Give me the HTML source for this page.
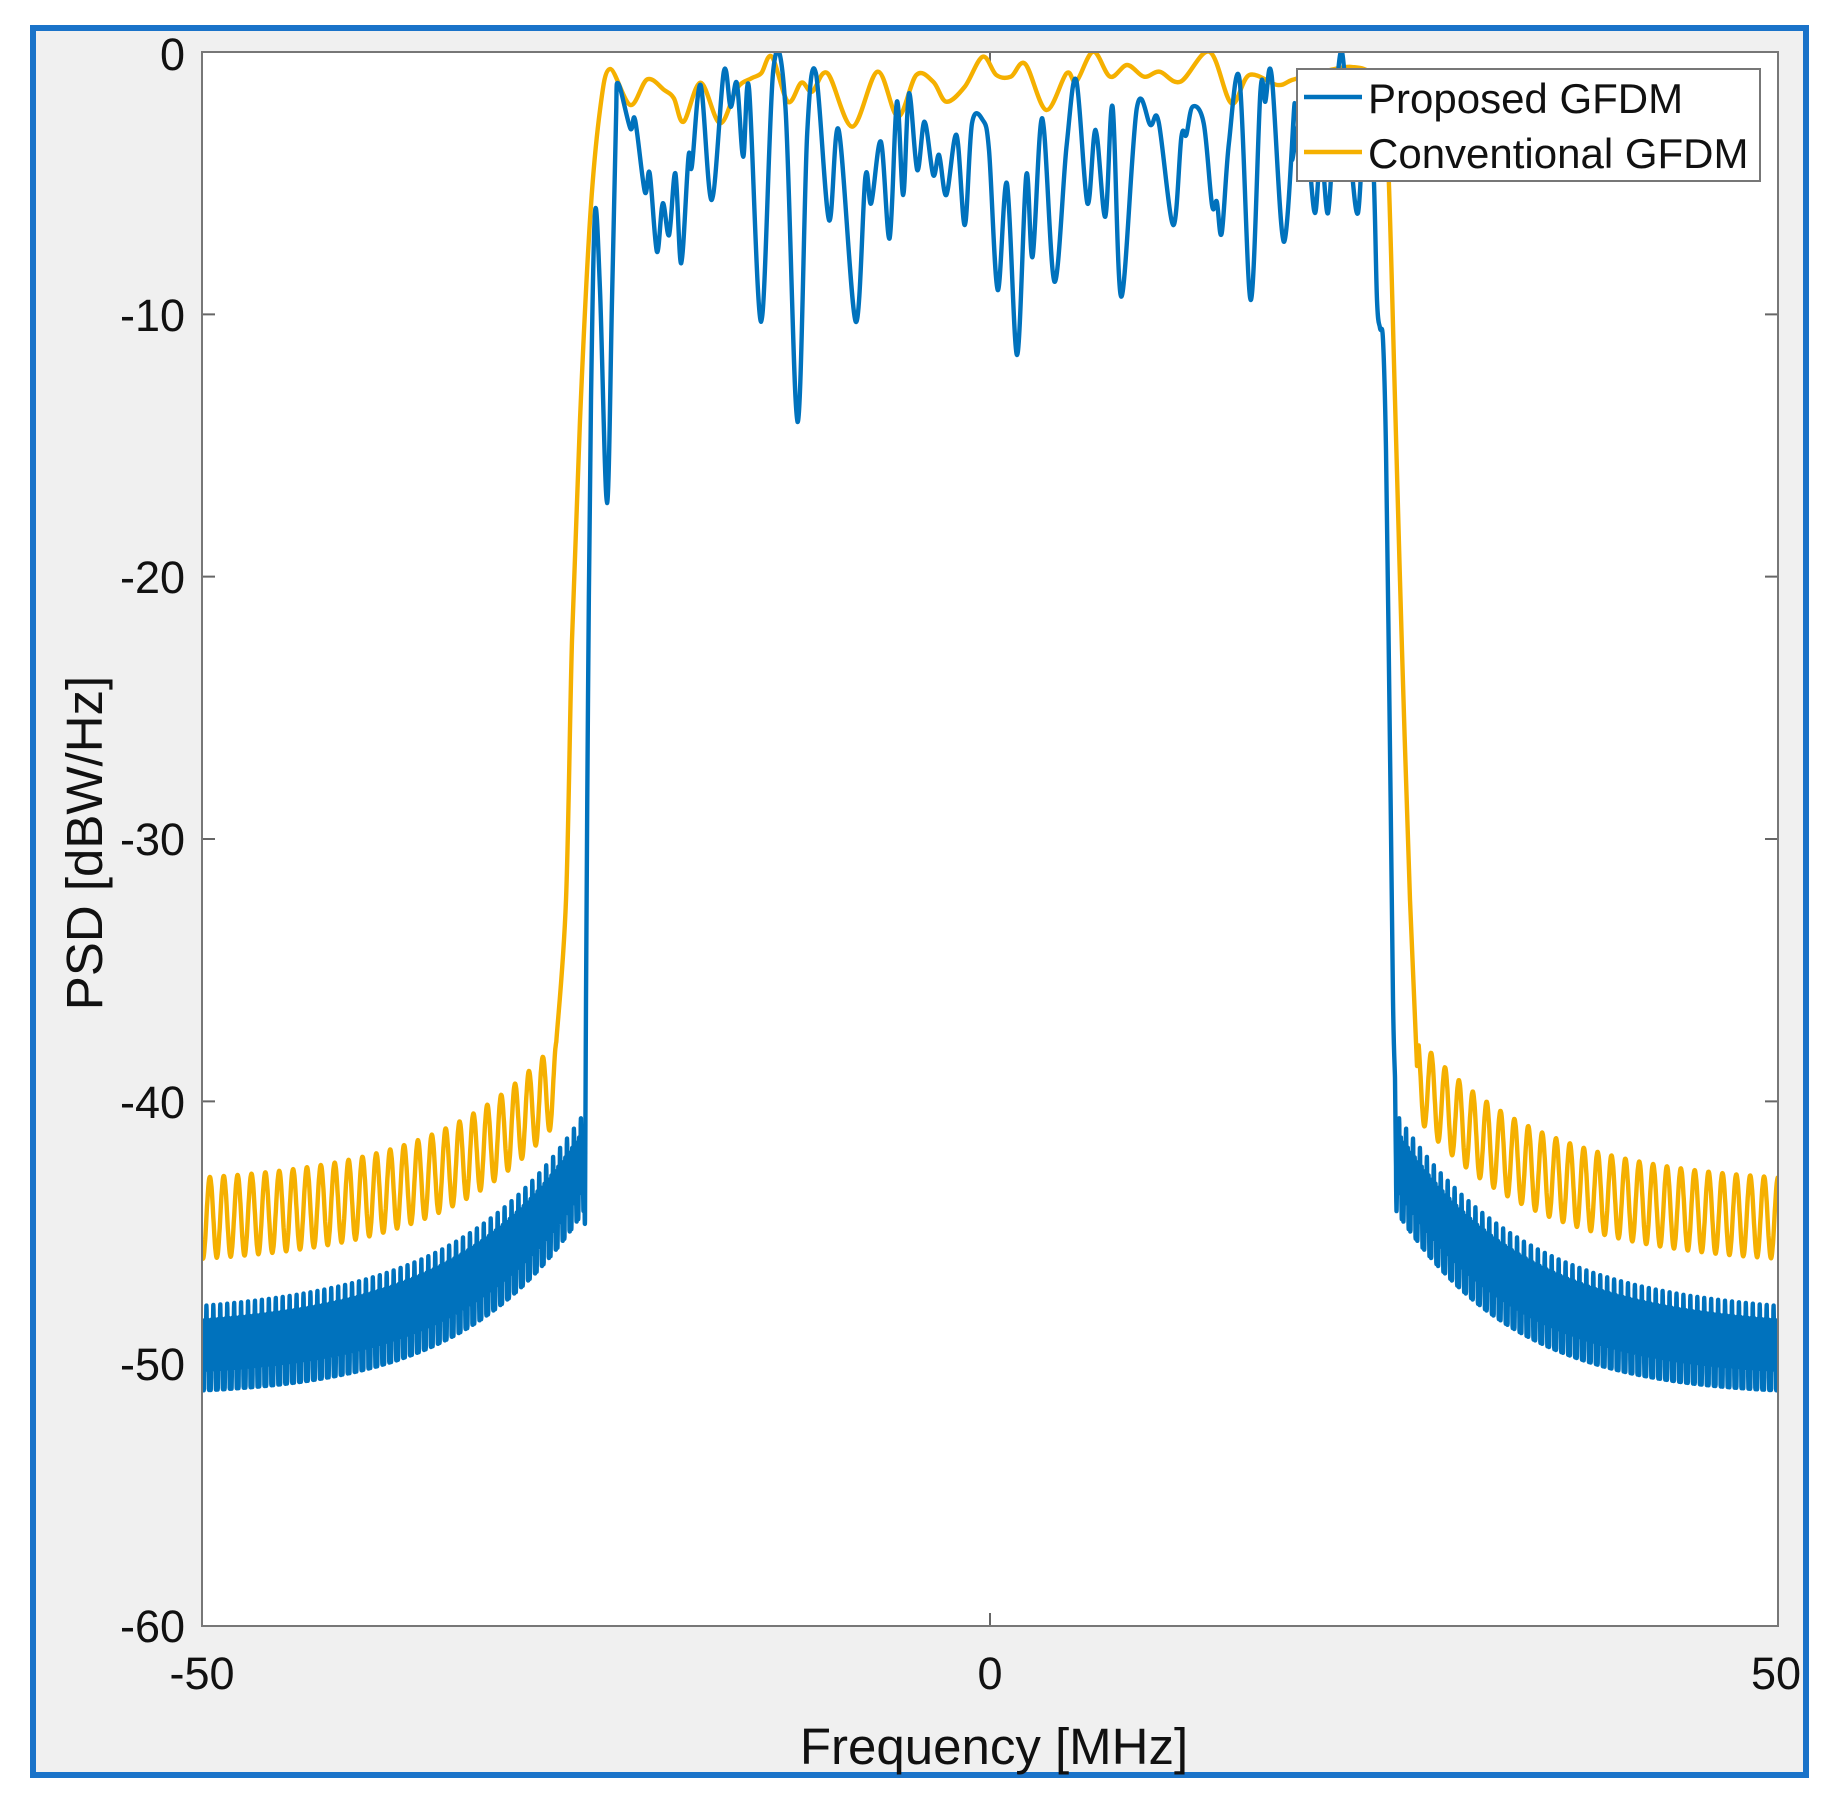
<!DOCTYPE html>
<html><head><meta charset="utf-8"><style>html,body{margin:0;padding:0;background:#fff}svg{display:block}</style></head>
<body>
<svg id="s" width="1839" height="1801" viewBox="0 0 1839 1801" xmlns="http://www.w3.org/2000/svg" font-family="Liberation Sans, Arial, sans-serif">
<rect x="0" y="0" width="1839" height="1801" fill="#fff"/>
<rect x="33" y="28" width="1773" height="1747" fill="#f0f0f0" stroke="#1a73c9" stroke-width="6"/>
<rect x="202" y="52" width="1576" height="1574" fill="#fff"/>
<defs><clipPath id="c"><rect x="202" y="52" width="1576" height="1574"/></clipPath></defs>
<g id="ticks" stroke="#666" stroke-width="2"></g>
<g clip-path="url(#c)">
<path id="or" fill="none" stroke="#F5B000" stroke-width="4.4" stroke-linejoin="round"/>
<path id="bl" fill="none" stroke="#0072BD" stroke-width="4.4" stroke-linejoin="round"/>
</g>
<rect x="202" y="52" width="1576" height="1574" fill="none" stroke="#777" stroke-width="2"/>
<g font-size="45" fill="#111" text-anchor="end">
<text x="185" y="70">0</text>
<text x="185" y="331">-10</text>
<text x="185" y="593">-20</text>
<text x="185" y="855">-30</text>
<text x="185" y="1118">-40</text>
<text x="185" y="1380">-50</text>
<text x="185" y="1642">-60</text>
</g>
<g font-size="45" fill="#111" text-anchor="middle">
<text x="202" y="1689">-50</text>
<text x="990" y="1689">0</text>
<text x="1776" y="1689">50</text>
</g>
<text x="994" y="1764" font-size="51" fill="#111" text-anchor="middle">Frequency [MHz]</text>
<text transform="translate(102,843) rotate(-90)" font-size="51" fill="#111" text-anchor="middle">PSD [dBW/Hz]</text>
<rect x="1297" y="69" width="463" height="112" fill="#fff" stroke="#777" stroke-width="2"/>
<line x1="1304" y1="97" x2="1362" y2="97" stroke="#0072BD" stroke-width="4.4"/>
<line x1="1304" y1="152" x2="1362" y2="152" stroke="#F5B000" stroke-width="4.4"/>
<text x="1368" y="113" font-size="42" fill="#111">Proposed GFDM</text>
<text x="1368" y="168" font-size="42" fill="#111">Conventional GFDM</text>
</svg>
<script>
(function(){
var X=function(f){return 202+(f+50)*15.76;};
var Y=function(d){return 52-d*26.233;};
var t='';
[ -50,0,50].forEach(function(f){var x=X(f);t+='M'+x+' 1626V1613M'+x+' 52V65';});
for(var d=0;d>=-60;d-=10){var y=Y(d);t+='M202 '+y+'H215M1778 '+y+'H1765';}
document.getElementById('ticks').innerHTML='<path d="'+t+'"/>';
function cr(pts){
 var s='M'+pts[0][0].toFixed(1)+' '+pts[0][1].toFixed(1);
 for(var i=0;i<pts.length-1;i++){
  var p0=pts[i-1]||pts[i],p1=pts[i],p2=pts[i+1],p3=pts[i+2]||p2;
  var c1x=p1[0]+(p2[0]-p0[0])/6,c1y=p1[1]+(p2[1]-p0[1])/6;
  var c2x=p2[0]-(p3[0]-p1[0])/6,c2y=p2[1]-(p3[1]-p1[1])/6;
  s+='C'+c1x.toFixed(1)+' '+c1y.toFixed(1)+' '+c2x.toFixed(1)+' '+c2y.toFixed(1)+' '+p2[0].toFixed(1)+' '+p2[1].toFixed(1);
 }
 return s;
}
function pl(pts){var s='';pts.forEach(function(p,i){s+=(i?'L':'M')+p[0].toFixed(1)+' '+p[1].toFixed(1);});return s;}
function z4(a){return a.map(function(p){return [560+p[0]/2.063,40+p[1]/3];});}
function env(u,near,far){return near-(near-far)*(1-Math.exp(-3*u))/(1-Math.exp(-3));}
var oL=[];for(var f=-50;f<=-27.5;f+=0.02){var u=(-27.5-f)/22.5;var top=env(u,-37.7,-42.9);var d=top-3.1*(0.5-0.5*Math.cos(2*Math.PI*(f+27.5)/0.88));oL.push([X(f),Y(d)]);}
var oMid=[[566,900],[572,640],[580,420],[590,220],[600,110],[610,69]].concat(z4([[145,195],[180,118],[215,150],[235,175],[255,245],[290,128],[330,250],[365,145],[395,115],[415,100],[437,50],[470,185],[498,128],[520,155],[552,100],[603,260],[655,95],[697,230],[735,105],[770,125],[797,185],[835,140],[872,50],[900,105],[930,110],[960,72],[1003,210],[1045,100],[1065,125],[1100,35],[1135,110],[1170,75],[1205,110],[1237,95],[1280,125],[1340,35],[1385,190],[1422,105],[1480,135],[1510,120]])).concat([[1310,75],[1330,70],[1352,67],[1372,75],[1382,110],[1388,160],[1395,400],[1402,650],[1410,900],[1417,1066]]);
var oR=[];for(var f=27.2;f<=50.01;f+=0.02){var u=(f-27.2)/22.8;var top=env(u,-37.6,-42.9);var d=top-3.1*(0.5-0.5*Math.cos(2*Math.PI*(f-27.2)/0.88+0.6));oR.push([X(f),Y(d)]);}
document.getElementById('or').setAttribute('d',pl(oL)+'L'+cr([oL[oL.length-1]].concat(oMid)).slice(1)+'L'+pl(oR).slice(1));
function bl(f,f0,sgn,len){var u=Math.abs(f-f0)/len;var top=env(u,-40.4,-47.8);
 var r=2.3*(0.5-0.5*Math.cos(2*Math.PI*f/0.11))+1.1*(0.5-0.5*Math.cos(2*Math.PI*f/0.44));
 return top-r*(1+0.15*(1-u));}
var bL=[];for(var f=-50;f<=-25.75;f+=0.01){bL.push([X(f),Y(bl(f,-25.7,1,24.3))]);}
var bMid=[[585,1219],[586,1000],[588,700],[591,400],[595,212],[600,290],[607,503],[612,300],[616,120]].concat(z4([[120,130],[145,265],[155,240],[175,455],[185,400],[200,635],[212,490],[225,585],[238,400],[250,670],[265,350],[272,380],[290,135],[313,480],[338,95],[352,200],[365,130],[378,350],[390,145],[415,845],[440,90],[465,200],[490,1146],[510,280],[528,100],[555,540],[575,270],[610,845],[630,410],[642,490],[662,305],[680,595],[695,185],[708,465],[720,160],[737,390],[752,245],[770,405],[782,345],[797,465],[818,285],[835,555],[850,250],[872,240],[885,330],[903,750],[922,430],[943,945],[962,405],[975,650],[995,235],[1020,725],[1045,320],[1065,120],[1088,490],[1105,270],[1125,530],[1140,200],[1158,770],[1190,205],[1218,255],[1235,245],[1265,555],[1282,290],[1292,285],[1305,200],[1328,250],[1345,495],[1355,485],[1365,580],[1380,310],[1402,120],[1425,780],[1445,155],[1455,185],[1468,105],[1493,605],[1515,195]])).concat([[1292,160],[1300,120],[1308,150],[1315,213],[1321,150],[1328,213],[1335,110],[1342,52],[1350,150],[1358,213],[1365,110],[1373,160],[1377,300],[1380,328],[1383,340],[1386,450],[1390,750],[1393,1000],[1395,1078]]);
var bR=[];for(var f=25.75;f<=50.01;f+=0.01){bR.push([X(f),Y(bl(f,25.7,1,24.3))]);}
document.getElementById('bl').setAttribute('d',pl(bL)+'L'+cr([bL[bL.length-1]].concat(bMid)).slice(1)+'L'+pl(bR).slice(1));
})();
</script>
</body></html>
